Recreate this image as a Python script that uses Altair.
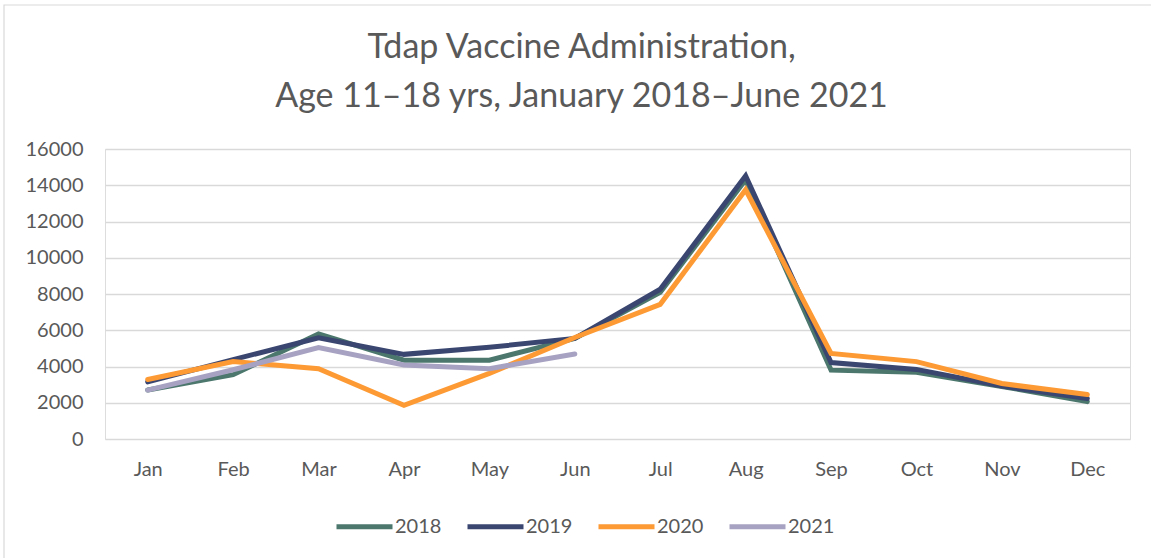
import altair as alt
import pandas as pd

months = ["Jan", "Feb", "Mar", "Apr", "May", "Jun", "Jul", "Aug", "Sep", "Oct", "Nov", "Dec"]
y2018 = [2700, 3550, 5800, 4350, 4350, 5550, 8100, 14300, 3800, 3680, 2900, 2060]
y2019 = [3150, 4380, 5580, 4670, 5060, 5550, 8260, 14520, 4220, 3840, 2920, 2230]
y2020 = [3280, 4270, 3880, 1860, 3620, 5600, 7430, 13750, 4720, 4270, 3060, 2450]
y2021 = [2700, 3820, 5050, 4080, 3880, 4690]
years = ["2018", "2019", "2020", "2021"]
colors = ["#4b776c", "#3a4670", "#fd9a34", "#a7a2c2"]

rows = []
for yr, vals in zip(years, [y2018, y2019, y2020, y2021]):
    for i, v in enumerate(vals):
        rows.append({"Month": months[i], "Year": yr, "Value": v, "order": i})
df = pd.DataFrame(rows)

font = "Lato"
textc = "#595959"

border = alt.Chart(pd.DataFrame({"a": [0]})).mark_rect(
    fill=None, stroke="#d9d9d9", strokeWidth=1.2
).encode(
    x=alt.value(-101), x2=alt.value(1047), y=alt.value(-144), y2=alt.value(412)
)

lines = alt.Chart(df).mark_line(strokeWidth=5, strokeCap="round", strokeJoin="miter").encode(
    x=alt.X("Month:N", sort=months, scale=alt.Scale(type="point", padding=0.5),
            axis=alt.Axis(title=None, labelFont=font, labelFontSize=20, labelColor=textc,
                          labelPadding=20, ticks=False, domain=False, grid=False, labelAngle=0)),
    y=alt.Y("Value:Q", scale=alt.Scale(domain=[0, 16000], nice=False),
            axis=alt.Axis(title=None, values=list(range(0, 16001, 2000)), format="d",
                          labelFont=font, labelFontSize=20, labelColor=textc, labelPadding=22,
                          ticks=False, domain=False, gridColor="#d9d9d9", gridWidth=1.3)),
    color=alt.Color("Year:N", scale=alt.Scale(domain=years, range=colors),
                    legend=alt.Legend(title=None, orient="none", direction="horizontal",
                                      legendX=229, legendY=347, symbolType="stroke",
                                      symbolStrokeWidth=5, symbolSize=3136,
                                      labelFont=font, labelFontSize=20, labelColor=textc,
                                      columnPadding=15, labelOffset=0)),
    order=alt.Order("order:Q"),
)

chart = alt.layer(border, lines).properties(
    width=1025, height=290,
    title=alt.TitleParams(
        text=["Tdap Vaccine Administration,", "Age 11\u201318 yrs, January 2018\u2013June 2021"],
        font=font, fontSize=34, fontWeight="normal", color=textc, lineHeight=49,
        anchor="middle", dx=-36, offset=-110,
    ),
    autosize=alt.AutoSizeParams(type="none"),
    padding={"left": 105, "top": 149, "right": 21, "bottom": 119},
).configure_view(stroke=None).configure(background="white")

chart.save("out.html", embed_options={"renderer": "svg", "actions": False})
